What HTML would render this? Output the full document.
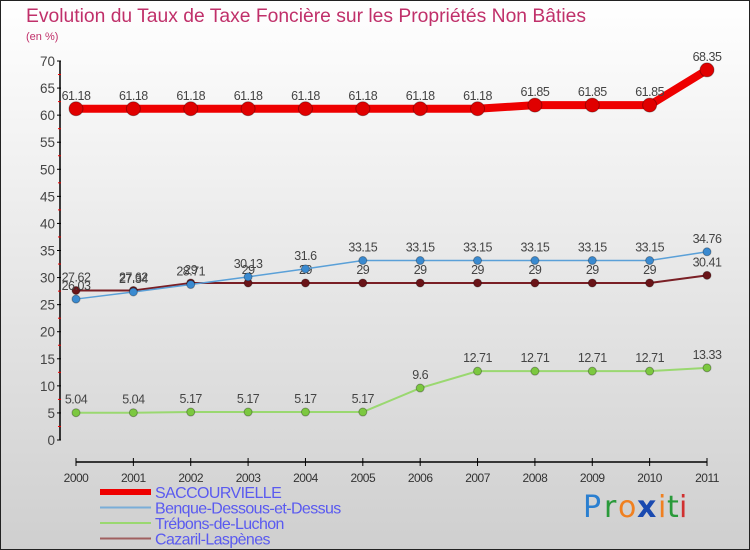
<!DOCTYPE html>
<html><head><meta charset="utf-8"><style>
body{margin:0;}
#wrap{width:750px;height:550px;position:relative;overflow:hidden;}
svg{display:block;font-family:"Liberation Sans",sans-serif;}
</style></head><body>
<div id="wrap">
<svg id="chart" width="750" height="550" viewBox="0 0 750 550">
<defs><linearGradient id="bg" x1="0" y1="0" x2="0" y2="1"><stop offset="0" stop-color="#ffffff"/><stop offset="1" stop-color="#cfcfcf"/></linearGradient></defs>
<rect x="0.5" y="0.5" width="749" height="549" fill="url(#bg)" stroke="#222"/>
<text x="26" y="22" font-size="19.5" fill="#c0306a" textLength="560" lengthAdjust="spacingAndGlyphs">Evolution du Taux de Taxe Foncière sur les Propriétés Non Bâties</text>
<text x="26" y="40" font-size="11" fill="#c0306a">(en %)</text>
<g id="axes"></g><g id="series"></g><g id="legend"></g>
<g font-size="30" font-family="'DejaVu Sans',sans-serif">
<text x="583" y="517" fill="#2a7fd0">P</text><text x="604" y="517" fill="#2a9a3a">r</text><text x="618" y="517" fill="#f08020">o</text><text x="637" y="517" fill="#1a4ab0" font-weight="bold">x</text><text x="658" y="517" fill="#f08020">i</text><text x="667" y="517" fill="#2a9a3a">t</text><text x="679" y="517" fill="#d03030">i</text>
</g>
</svg></div>
<script>
const years=["2000","2001","2002","2003","2004","2005","2006","2007","2008","2009","2010","2011"];
const yTicks=[0,5,10,15,20,25,30,35,40,45,50,55,60,65,70];
const saccourvielle=[61.18,61.18,61.18,61.18,61.18,61.18,61.18,61.18,61.85,61.85,61.85,68.35];
const benque=[26.03,27.34,28.71,30.13,31.6,33.15,33.15,33.15,33.15,33.15,33.15,34.76];
const trebons=[5.04,5.04,5.17,5.17,5.17,5.17,9.6,12.71,12.71,12.71,12.71,13.33];
const cazaril=[27.62,27.62,29,29,29,29,29,29,29,29,29,30.41];
const NS="http://www.w3.org/2000/svg";
const xS=i=>76+i*(707-76)/11;
const yS=v=>440-v*(379/70);
function mk(tag,attrs,parent){const e=document.createElementNS(NS,tag);for(const k in attrs)e.setAttribute(k,attrs[k]);parent.appendChild(e);return e;}
const axes=document.getElementById('axes');
let yl=mk('line',{x1:60,y1:yS(70),x2:60,y2:yS(0),stroke:'#000','stroke-width':1.5},axes);


yTicks.forEach(t=>{
 let l=mk('line',{x1:57,y1:yS(t),x2:61,y2:yS(t),stroke:'#000'},axes);
 
 
 if(t<70){let m=mk('line',{x1:58,y1:yS(t+2.5),x2:61,y2:yS(t+2.5),stroke:'#e00'},axes);
 
 }
 let tx=mk('text',{x:55,y:yS(t)+5,'text-anchor':'end','font-size':13.5,fill:'#444'},axes);tx.textContent=t;
 
 
});
let xl=mk('line',{x1:xS(0),y1:462,x2:xS(11),y2:462,stroke:'#000','stroke-width':1.5},axes);


years.forEach((y,i)=>{
 let l=mk('line',{x1:xS(i),y1:458,x2:xS(i),y2:466,stroke:'#000'},axes);
 
 
 let tx=mk('text',{x:xS(i),y:482,'text-anchor':'middle','font-size':12,fill:'#333','letter-spacing':'-0.5'},axes);tx.textContent=y;
 
 
});
const ser=document.getElementById('series');
const defs=[
 {name:'cazaril',data:cazaril,color:'#7a1f25',w:2,r:4,pt:'#6a1418'},
 {name:'trebons',data:trebons,color:'#9ad870',w:2,r:4,pt:'#7cc840'},
 {name:'benque',data:benque,color:'#5aa0d8',w:1.5,r:4,pt:'#3a8ad0'},
 {name:'saccourvielle',data:saccourvielle,color:'#ee0000',w:8,r:7,pt:'#e00000'}];
defs.forEach(s=>{
 const g=mk('g',{},ser);
 
 
 const p=mk('polyline',{points:s.data.map((v,i)=>xS(i)+','+yS(v)).join(' '),fill:'none',stroke:s.color,'stroke-width':s.w},g);
 
 
 s.data.forEach((v,i)=>{
  const c=mk('circle',{cx:xS(i),cy:yS(v),r:s.r,fill:s.pt,stroke:'rgba(0,0,0,0.3)','stroke-width':1},g);
  
  
  const t=mk('text',{x:xS(i),y:yS(v)-9,'text-anchor':'middle','font-size':12.5,fill:'#444','letter-spacing':'-0.5'},g);
  t.textContent=String(v);
  
  
 });
});
const leg=document.getElementById('legend');
const items=[['SACCOURVIELLE','#ee0000',6],['Benque-Dessous-et-Dessus','#7aaed8',2],['Trébons-de-Luchon','#9ad870',2],['Cazaril-Laspènes','#a06060',2]];
items.forEach((it,k)=>{
 const y=492+k*15.5;
 const l=mk('line',{x1:100,y1:y,x2:151,y2:y,stroke:it[1],'stroke-width':it[2]},leg);
 
 
 const t=mk('text',{x:155,y:y+6,'font-size':16,fill:'#5a5af0','letter-spacing':'-0.6'},leg);t.textContent=it[0];
 
 
});
</script>
</body></html>
